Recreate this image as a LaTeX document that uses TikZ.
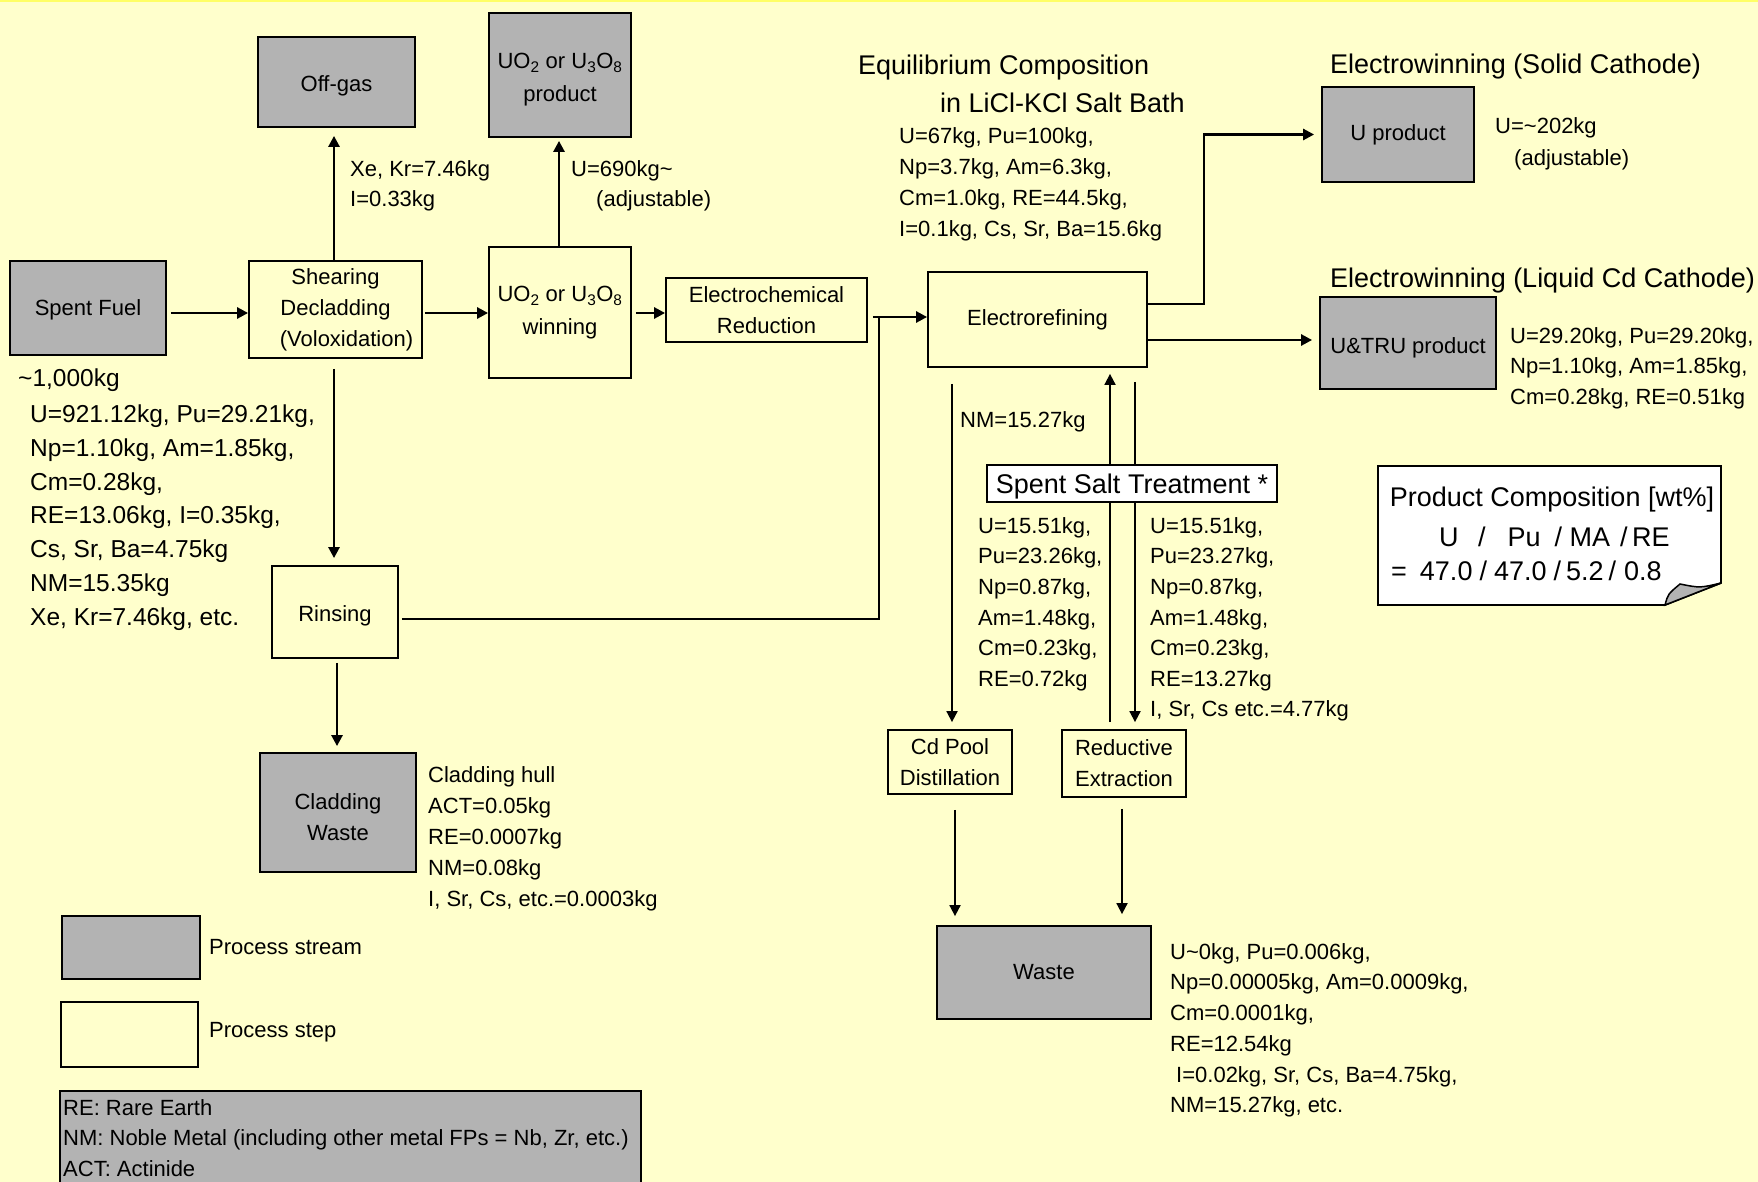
\documentclass[tikz,border=0pt]{standalone}
\usepackage{fontspec}
\setmainfont{Liberation Sans}
\usetikzlibrary{arrows.meta}

\definecolor{paper}{HTML}{FFFFCC}
\definecolor{topband}{HTML}{FFFF66}
\definecolor{streamgray}{HTML}{B3B3B3}

% font sizes (1 unit = 1pt)
\newcommand\fsA{\fontsize{22}{30.7}\selectfont}
\newcommand\fsB{\fontsize{24.5}{33.9}\selectfont}
\newcommand\fsC{\fontsize{27}{38}\selectfont}
% first-line struts, so that a north-west anchor sits a fixed distance above the first baseline
\newcommand\stA{\rule{0pt}{17pt}}
\newcommand\stB{\rule{0pt}{19pt}}
\newcommand\stC{\rule{0pt}{21pt}}

\pgfdeclarelayer{background}
\pgfdeclarelayer{wires}
\pgfsetlayers{background,wires,main}

\tikzset{
  box/.style={draw=black, line width=1.8pt, inner sep=0pt, align=center,
              font=\fontsize{22}{31}\selectfont},
  stream/.style={box, fill=streamgray},
  stepbox/.style={box},
  boxlabel/.style={inner sep=0pt, align=center, font=\fontsize{22}{31}\selectfont},
  flow/.style={line width=2.6pt, -{Triangle[length=11pt,width=11pt]}},
  thinflow/.style={line width=1.8pt, -{Triangle[length=11pt,width=11pt]}},
  pipe/.style={line width=1.8pt},
  txt/.style={anchor=north west, inner sep=0pt, align=left, font=\fsA},
  txtline/.style={anchor=base west, inner sep=0pt, font=\fsA},
}

\begin{document}
\begin{tikzpicture}[x=1pt,y=-1pt]
\useasboundingbox (0,0) rectangle (1758,1182);
\begin{pgfonlayer}{background}
  \fill[paper] (0,0) rectangle (1758,1182);
  \fill[topband] (0,0) rectangle (1758,2.5);
\end{pgfonlayer}

% ---------- process streams and steps ----------
\node[stream, minimum width=156, minimum height=94, text height=19pt, text depth=3.6pt] (sf) at (88,308) {Spent Fuel};
\node[stepbox, minimum width=173, minimum height=97] (shear) at (335.5,309.5)
  {Shearing\\Decladding\\\hspace*{22pt}(Voloxidation)};
\node[stream, minimum width=157, minimum height=90, text height=20pt, text depth=1.8pt] (offgas) at (336.5,82) {Off-gas};
\node[stream, minimum width=142, minimum height=124] (uoprod) at (560,75) {};
\node[boxlabel, font=\fontsize{22}{33}\selectfont] (uoprodlbl) at ([yshift=-5pt]uoprod.center)
  {UO\textsubscript{2} or U\textsubscript{3}O\textsubscript{8}\\product};
\node[stepbox, minimum width=142, minimum height=131, font=\fontsize{22}{33}\selectfont] (uowin) at (560,312.5)
  {UO\textsubscript{2} or U\textsubscript{3}O\textsubscript{8}\\winning};
\node[stepbox, minimum width=201, minimum height=64] (ecr) at (766.5,310)
  {Electrochemical\\Reduction};
\node[stepbox, minimum width=219, minimum height=95] (er) at (1037.5,319.5) {Electrorefining};
\node[stream, minimum width=152, minimum height=95] (uprod) at (1398,134.5) {U product};
\node[stream, minimum width=176, minimum height=92, text height=22pt, text depth=1.6pt] (utru) at (1408,343) {U\&TRU product};
\node[stepbox, fill=white, minimum width=290, minimum height=37, font=\fsC, text height=24pt, text depth=4pt] (sst) at (1132,483.5)
  {Spent Salt Treatment *};
\node[stepbox, minimum width=126, minimum height=92, text height=20pt, text depth=1.8pt] (rinse) at (335,612) {Rinsing};
\node[stream, minimum width=156, minimum height=119] (clad) at (338,812.5) {};
\node[boxlabel] (cladlbl) at ([yshift=-4.5pt]clad.center) {Cladding\\Waste};
\node[stepbox, minimum width=124, minimum height=64] (cdpool) at (950,762) {Cd Pool\\Distillation};
\node[stepbox, minimum width=124, minimum height=67] (redex) at (1124,763.5) {Reductive\\Extraction};
\node[stream, minimum width=214, minimum height=93] (waste) at (1044,972.5) {Waste};

% ---------- product composition note with folded corner ----------
\draw[fill=white, line width=1.8pt]
  (1378,466) -- (1721,466) -- (1721,583) -- (1665,605) -- (1378,605) -- cycle;
\draw[fill=streamgray, line width=1.5pt]
  (1665,605) .. controls (1668,594) .. (1680,584) .. controls (1700,588) .. (1721,583) -- cycle;
\node[anchor=base, inner sep=0pt, font=\fsC] (pc1) at (1552,506) {Product Composition [wt\%]};
\node[anchor=base west, inner sep=0pt, font=\fsC] (pc2) at (1439,546)
  {U\hspace{19.5pt}/\hspace{22pt}Pu\hspace{14pt}/\hspace{7.5pt}MA\hspace{10pt}/\hspace{4.5pt}RE};
\node[anchor=base west, inner sep=0pt, font=\fsC] (pc3) at (1391,580)
  {=\hspace{13pt}47.0\hspace{7pt}/\hspace{7pt}47.0\hspace{7pt}/\hspace{5pt}5.2\hspace{5pt}/\hspace{8pt}0.8};

% ---------- legend ----------
\node[stream, minimum width=138, minimum height=63] (leg1) at (131,947.5) {};
\node[stepbox, minimum width=137, minimum height=65] (leg2) at (129.5,1034.5) {};
\node[txtline] (leg1txt) at (209,954) {Process stream};
\node[txtline] (leg2txt) at (209,1037) {Process step};
\node[stream, minimum width=581, minimum height=109] (abbr) at (350.5,1145.5) {};
\node[txt] (abbrtxt) at (63,1098)
  {\stA RE: Rare Earth\\NM: Noble Metal (including other metal FPs = Nb, Zr, etc.)\\ACT: Actinide};

% ---------- stream data ----------
\node[txt, font=\fsB] (fuelamt) at (18,367) {\stB\textasciitilde 1,000kg};
\node[txt, font=\fsB] (fuelcomp) at (30,403)
  {\stB U=921.12kg, Pu=29.21kg,\\Np=1.10kg, Am=1.85kg,\\Cm=0.28kg,\\RE=13.06kg, I=0.35kg,\\
   Cs, Sr, Ba=4.75kg\\NM=15.35kg\\Xe, Kr=7.46kg, etc.};
\node[txt, font=\fontsize{22}{30}\selectfont] (offgastxt) at (350,159) {\stA Xe, Kr=7.46kg\\I=0.33kg};
\node[txt, font=\fontsize{22}{30}\selectfont] (uotxt) at (571,159)
  {\stA U=690kg\textasciitilde\\\hspace*{25pt}(adjustable)};
\node[txt, font=\fsC] (eqtitle) at (858,53)
  {\stC Equilibrium Composition\\\hspace*{82pt}in LiCl-KCl Salt Bath};
\node[txt, font=\fontsize{22}{31}\selectfont] (eqcomp) at (899,126)
  {\stA U=67kg, Pu=100kg,\\Np=3.7kg, Am=6.3kg,\\Cm=1.0kg, RE=44.5kg,\\I=0.1kg, Cs, Sr, Ba=15.6kg};
\node[txt, font=\fsC] (ewsolid) at (1330,52) {\stC Electrowinning (Solid Cathode)};
\node[txt, font=\fontsize{22}{32}\selectfont] (uprodtxt) at (1495,116)
  {\stA U=\textasciitilde 202kg\\\hspace*{19pt}(adjustable)};
\node[txt, font=\fsC] (ewliquid) at (1330,266) {\stC Electrowinning (Liquid Cd Cathode)};
\node[txt, font=\fontsize{22}{30.5}\selectfont] (utrutxt) at (1510,326)
  {\stA U=29.20kg, Pu=29.20kg,\\Np=1.10kg, Am=1.85kg,\\Cm=0.28kg, RE=0.51kg};
\node[txt] (nmtxt) at (960,410) {\stA NM=15.27kg};
\node[txt, font=\fontsize{22}{30.6}\selectfont] (ssleft) at (978,516)
  {\stA U=15.51kg,\\Pu=23.26kg,\\Np=0.87kg,\\Am=1.48kg,\\Cm=0.23kg,\\RE=0.72kg};
\node[txt, font=\fontsize{22}{30.6}\selectfont] (ssright) at (1150,516)
  {\stA U=15.51kg,\\Pu=23.27kg,\\Np=0.87kg,\\Am=1.48kg,\\Cm=0.23kg,\\RE=13.27kg\\I, Sr, Cs etc.=4.77kg};
\node[txt, font=\fontsize{22}{31}\selectfont] (cladtxt) at (428,765)
  {\stA Cladding hull\\ACT=0.05kg\\RE=0.0007kg\\NM=0.08kg\\I, Sr, Cs, etc.=0.0003kg};
\node[txt] (wastetxt) at (1170,942)
  {\stA U\textasciitilde 0kg, Pu=0.006kg,\\Np=0.00005kg, Am=0.0009kg,\\Cm=0.0001kg,\\RE=12.54kg\\
   \hspace*{6pt}I=0.02kg, Sr, Cs, Ba=4.75kg,\\NM=15.27kg, etc.};

% ---------- connectors ----------
\coordinate (yA) at (0,313);
\coordinate (yB) at (0,317);
\coordinate (yC) at (0,619);
\coordinate (yD) at (0,304);
\coordinate (yE) at (0,340);
\coordinate (jn) at (879,317);
\coordinate (kx) at (1204,0);
\coordinate (xN) at (952,0);
\coordinate (xU) at (1110,0);
\coordinate (xD) at (1135,0);
\coordinate (xW1) at (955,0);
\coordinate (xW2) at (1122,0);
\coordinate (xS) at (334,0);
\coordinate (xR) at (337,0);
\coordinate (xP) at (559,0);

\begin{pgfonlayer}{wires}
  % main line of the flowsheet
  \draw[flow, shorten <=4pt] (sf.east |- yA) -- (shear.west |- yA);
  \draw[flow, shorten <=2pt] (shear.east |- yA) -- (uowin.west |- yA);
  \draw[flow, shorten <=4pt] (uowin.east |- yA) -- (ecr.west |- yA);
  \draw[flow, shorten <=5pt] (ecr.east |- yB) -- (er.west |- yB);
  \draw[pipe, shorten <=3pt] (rinse.east |- yC) -- (jn |- yC) -- (jn);
  % head-end branches
  \draw[flow, shorten >=8pt] (xS |- shear.north) -- (xS |- offgas.south);
  \draw[flow, shorten <=10pt, shorten >=7pt] (xS |- shear.south) -- (xS |- rinse.north);
  \draw[flow, shorten >=3pt] (xP |- uowin.north) -- (xP |- uoprod.south);
  \draw[flow, shorten <=4pt, shorten >=6pt] (xR |- rinse.south) -- (xR |- clad.north);
  % electrorefining products
  \draw[flow, shorten >=7pt] (er.east |- yD) -- (kx |- yD) -- (kx |- uprod.west) -- (uprod.west);
  \draw[flow, shorten >=7pt] (er.east |- yE) -- (utru.west |- yE);
  % salt streams
  \draw[thinflow, shorten <=16pt, shorten >=7pt] (xN |- er.south) -- (xN |- cdpool.north);
  \draw[thinflow, shorten <=7pt, shorten >=6pt] (xU |- redex.north) -- (xU |- er.south);
  \draw[thinflow, shorten <=14pt, shorten >=7pt] (xD |- er.south) -- (xD |- redex.north);
  \draw[thinflow, shorten <=15pt, shorten >=9pt] (xW1 |- cdpool.south) -- (xW1 |- waste.north);
  \draw[thinflow, shorten <=11pt, shorten >=11pt] (xW2 |- redex.south) -- (xW2 |- waste.north);
\end{pgfonlayer}
\end{tikzpicture}
\end{document}
